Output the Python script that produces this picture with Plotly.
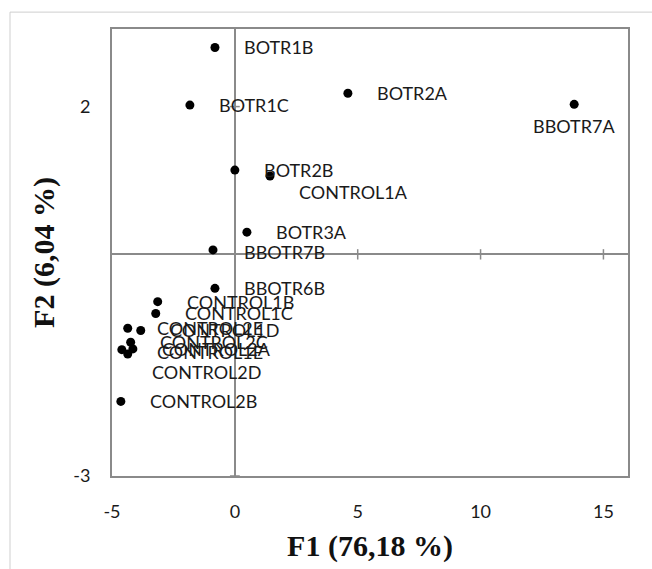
import plotly.graph_objects as go

# ---- data ----
names = ["BOTR1B", "BOTR1C", "BOTR2A", "BBOTR7A", "BOTR2B", "CONTROL1A", "BOTR3A",
         "BBOTR7B", "BBOTR6B", "CONTROL1B", "CONTROL1C", "CONTROL2E", "CONTROL1D",
         "CONTROL2C", "CONTROL2D", "CONTROL1E", "CONTROL2A", "CONTROL2B"]
f1 = [-0.81, -1.83, 4.60, 13.81, 0.00, 1.43, 0.49, -0.89, -0.81, -3.14, -3.22,
      -4.36, -3.83, -4.24, -4.60, -4.36, -4.15, -4.64]
f2 = [2.80, 2.02, 2.18, 2.03, 1.14, 1.06, 0.30, 0.06, -0.46, -0.64, -0.80,
      -1.00, -1.03, -1.19, -1.29, -1.35, -1.28, -1.99]
x_ticks = [-5, 0, 5, 10, 15]
x_tick_labels = ["-5", "0", "5", "10", "15"]
y_ticks = [-3, 2]
y_tick_labels = ["-3", "2"]
x_title = "F1 (76,18 %)"
y_title = "F2 (6,04 %)"

# ---- label placement (pixel offsets: dx to label start, dy downward) ----
label_offsets = {
    "BBOTR7A": (0, 22, "center"),
    "CONTROL1A": (27, 16, "left"),
    "BBOTR7B": (29, 2, "left"),
    "CONTROL2D": (28, 22, "left"),
    "CONTROL1E": (27, -2, "left"),
}
default_offset = (27, 0, "left")

LABEL_FONT = dict(family="Lato, 'Liberation Sans', sans-serif", size=18, color="#1a1a1a")
TITLE_FONT = dict(family="'Liberation Serif', 'Times New Roman', serif",
                  size=30, color="#111111", weight="bold")
AX_COLOR = "#8a8a8a"

fig = go.Figure()
fig.add_trace(go.Scatter(x=f1, y=f2, mode="markers", text=names,
                         marker=dict(color="black", size=9),
                         hoverinfo="text", showlegend=False))

for n, xv, yv in zip(names, f1, f2):
    dx, dy, anc = label_offsets.get(n, default_offset)
    fig.add_annotation(x=xv, y=yv, text=n, showarrow=False, xanchor=anc, yanchor="middle",
                       xshift=dx, yshift=-dy, font=LABEL_FONT)

# crossing tick marks on the zero axes
for t in x_ticks:
    if t not in (0, -5):
        fig.add_shape(type="line", xref="x", yref="y", x0=t, x1=t, y0=-0.07, y1=0.07,
                      line=dict(color=AX_COLOR, width=1.5))
for t in y_ticks:
    fig.add_shape(type="line", xref="x", yref="y", x0=-0.2, x1=0.2, y0=t, y1=t,
                  line=dict(color=AX_COLOR, width=1.5))

# outer chart frame
fig.add_shape(type="rect", xref="paper", yref="paper",
              x0=(10 - 112) / 516, x1=(680 - 112) / 516,
              y0=(479 - 600) / 450, y1=(479 - 12) / 450,
              line=dict(color="#cfcfcf", width=1), layer="below")

fig.update_layout(
    width=652, height=569,
    margin=dict(l=112, r=24, t=29, b=90),
    paper_bgcolor="white", plot_bgcolor="white",
    xaxis=dict(range=[-5, 16], tickvals=x_ticks, ticktext=x_tick_labels, ticks="",
               showgrid=False,
               zeroline=True, zerolinecolor=AX_COLOR, zerolinewidth=1.5,
               showline=True, mirror=True, linecolor=AX_COLOR, linewidth=2,
               tickfont=LABEL_FONT, ticklabelstandoff=18,
               title=dict(text=x_title, standoff=14, font=TITLE_FONT)),
    yaxis=dict(range=[-3, 3.05], tickvals=y_ticks, ticktext=y_tick_labels, ticks="",
               showgrid=False,
               zeroline=True, zerolinecolor=AX_COLOR, zerolinewidth=1.5,
               showline=True, mirror=True, linecolor=AX_COLOR, linewidth=2,
               tickfont=LABEL_FONT, ticklabelstandoff=16,
               title=dict(text=y_title, standoff=10, font=TITLE_FONT)),
)

fig.write_html("out.html")
